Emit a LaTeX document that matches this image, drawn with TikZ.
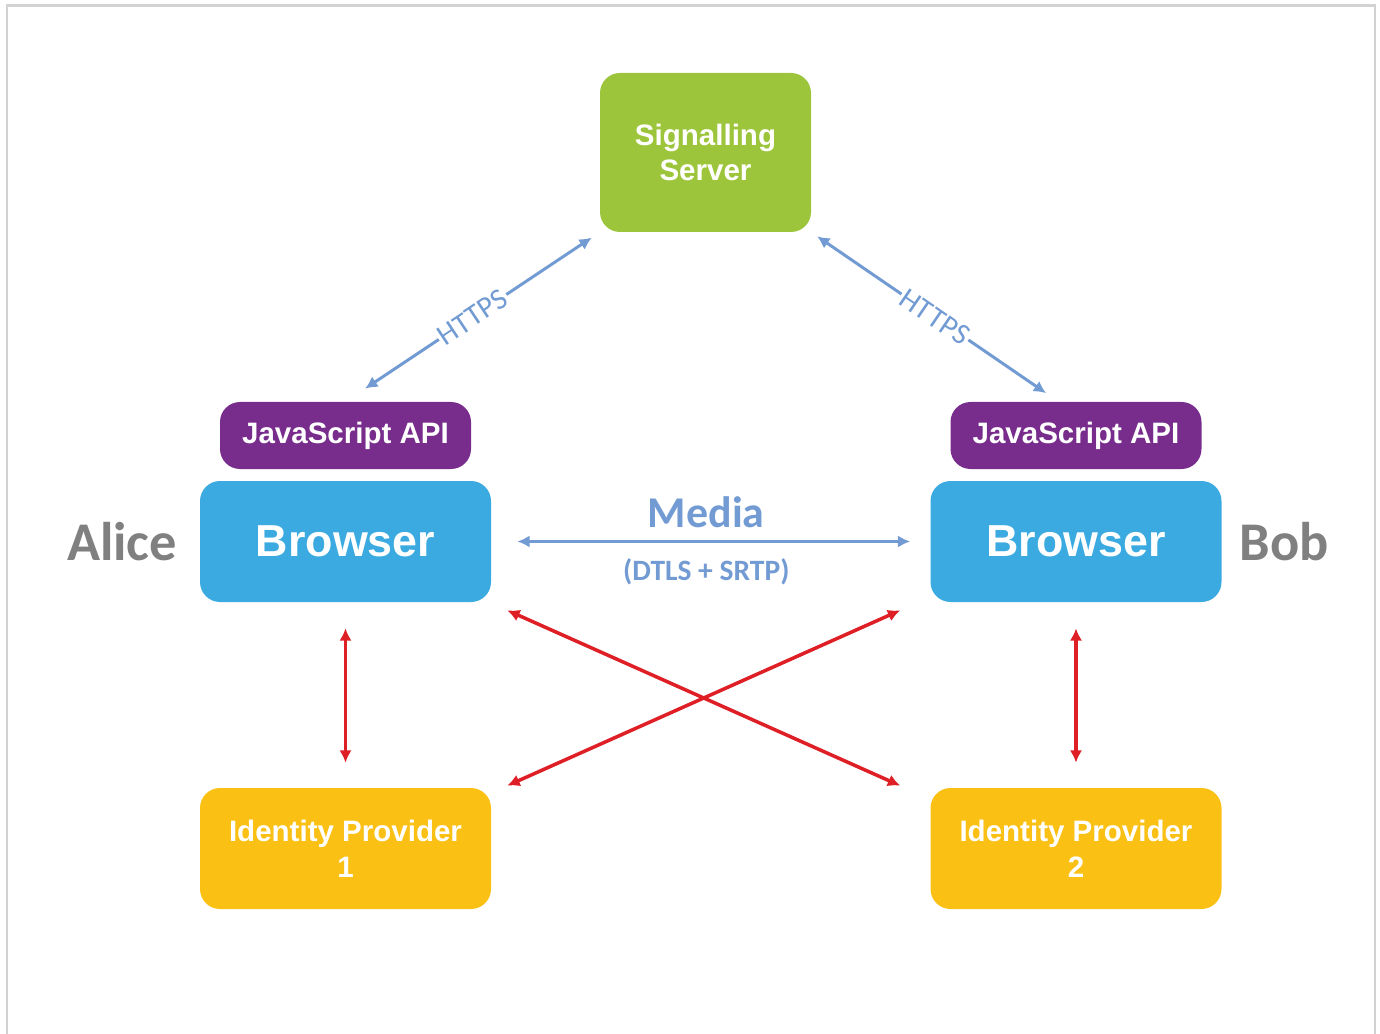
\documentclass[tikz,border=0pt]{standalone}
\usepackage{fontspec}
\setmainfont{Liberation Sans}
\newfontfamily\calfont{Carlito}
\usetikzlibrary{arrows.meta}

\definecolor{srvgreen}{RGB}{157,197,60}
\definecolor{apipurple}{RGB}{120,44,140}
\definecolor{brblue}{RGB}{59,170,225}
\definecolor{idyellow}{RGB}{251,192,20}
\definecolor{linkblue}{RGB}{114,155,211}
\definecolor{idred}{RGB}{222,32,38}
\definecolor{peergray}{RGB}{128,128,128}

\begin{document}
\begin{tikzpicture}[
  box/.style={rectangle, rounded corners=0.4cm, text=white, align=center,
    font=\fontsize{16.8}{20.4}\selectfont\bfseries},
  https/.style={{Latex[length=7pt,width=7pt]}-{Latex[length=7pt,width=7pt]}, linkblue, line width=1.7pt},
  idlink/.style={{Latex[length=7pt,width=7pt]}-{Latex[length=7pt,width=7pt]}, idred, line width=2pt},
  peer/.style={text=peergray, font=\calfont\fontsize{31}{36}\selectfont\bfseries}
]
\useasboundingbox (0,0) rectangle (27.6,-20.68);

% Frame
\draw[gray!35, line width=1.2pt] (0.14,-20.68) -- (0.14,-0.11) -- (27.5,-0.11) -- (27.5,-20.68);

% Server
\node[box, fill=srvgreen, minimum width=4.22cm, minimum height=3.18cm] (srv) at (14.11,-3.05) {Signalling\\Server};

% Alice side
\node[box, fill=apipurple, minimum width=5.02cm, minimum height=1.34cm] (jsA) at (6.91,-8.71) {JavaScript API};
\node[box, fill=brblue, minimum width=5.82cm, minimum height=2.42cm, font=\fontsize{25.5}{30}\selectfont\bfseries] (brA) at (6.91,-10.83) {Browser};
\node[box, fill=idyellow, minimum width=5.82cm, minimum height=2.42cm] (idA) at (6.91,-16.97) {Identity Provider\\1};
\node[peer] (alice) at (2.44,-10.83) {Alice};

% Bob side
\node[box, fill=apipurple, minimum width=5.02cm, minimum height=1.34cm] (jsB) at (21.52,-8.71) {JavaScript API};
\node[box, fill=brblue, minimum width=5.82cm, minimum height=2.42cm, font=\fontsize{25.5}{30}\selectfont\bfseries] (brB) at (21.52,-10.83) {Browser};
\node[box, fill=idyellow, minimum width=5.82cm, minimum height=2.42cm] (idB) at (21.52,-16.97) {Identity Provider\\2};
\node[peer] (bob) at (25.68,-10.83) {Bob};

% Signalling links
\draw[https, shorten <=0.47cm, shorten >=0.19cm] (jsA.north) -- node[sloped, fill=white, inner sep=1pt, text=linkblue, font=\calfont\fontsize{17}{20}\selectfont] {HTTPS} (srv.south west);
\draw[https, shorten <=0.14cm, shorten >=0.3cm] (srv.south east) -- node[sloped, fill=white, inner sep=1pt, text=linkblue, font=\calfont\fontsize{17}{20}\selectfont] {HTTPS} ([xshift=-0.35cm]jsB.north);

% Media path
\draw[https, shorten <=0.52cm, shorten >=0.4cm] (brA.east) --
  node[above=6.8pt, xshift=-0.09cm, inner sep=0pt, text=linkblue, font=\calfont\fontsize{25}{30}\selectfont\bfseries] {Media}
  node[below=9pt, xshift=-0.09cm, inner sep=0pt, text=linkblue, font=\calfont\fontsize{16.8}{20}\selectfont\bfseries] {(DTLS + SRTP)}
  (brB.west);

% Identity links
\draw[idlink, shorten <=0.52cm, shorten >=0.5cm] (brA.south) -- (idA.north);
\draw[idlink, shorten <=0.52cm, shorten >=0.5cm] (brB.south) -- (idB.north);
\draw[idlink] ([shift={(0.32,-0.16)}]brA.south east) -- ([shift={(-0.6,0.04)}]idB.north west);
\draw[idlink] ([shift={(0.32,0.04)}]idA.north east) -- ([shift={(-0.6,-0.16)}]brB.south west);

\end{tikzpicture}
\end{document}
